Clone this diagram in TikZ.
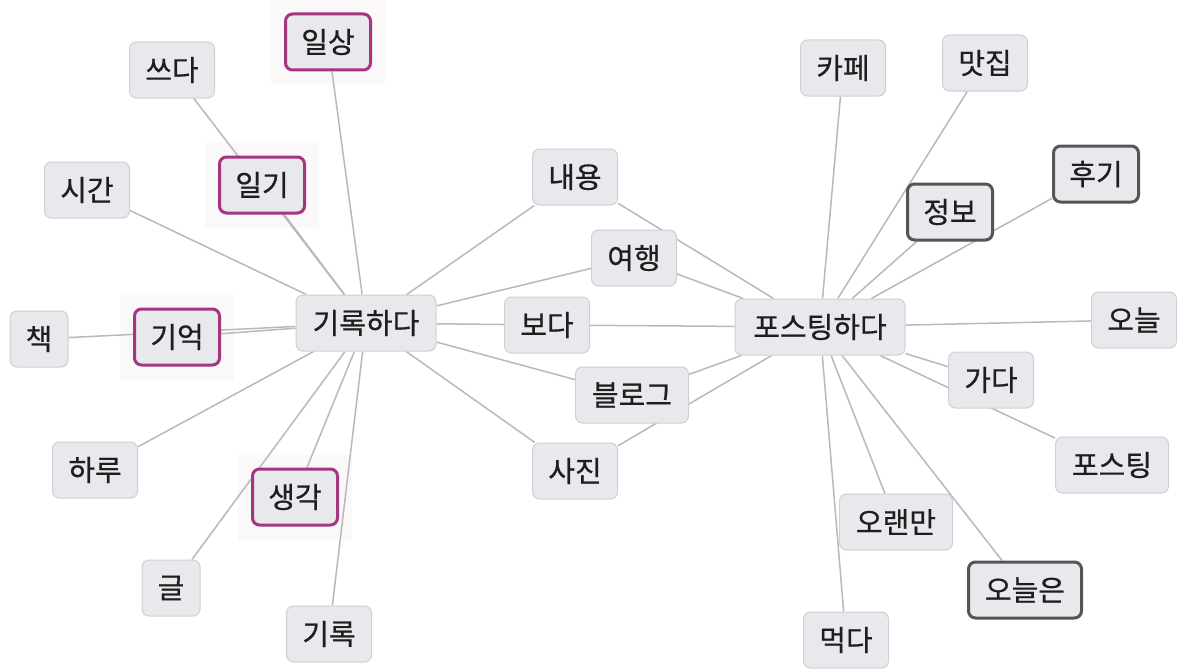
\documentclass[tikz,border=0pt]{standalone}
\usepackage{fontspec}
\setmainfont{Noto Sans CJK KR}[FakeBold=0.6]
\definecolor{nodefill}{HTML}{E8E9EC}
\definecolor{nodeborder}{HTML}{CDD0D4}
\definecolor{hlpurple}{HTML}{A3367F}
\definecolor{dkgray}{HTML}{555555}
\definecolor{linecol}{HTML}{B9B9B9}
\definecolor{textcol}{HTML}{1E1E1E}
\definecolor{halofill}{HTML}{FBF8FA}
\pgfdeclarelayer{paper}
\pgfdeclarelayer{halo}
\pgfdeclarelayer{edges}
\pgfsetlayers{paper,halo,edges,main}
\tikzset{
  word/.style={draw=nodeborder, line width=1pt, fill=nodefill, rounded corners=7pt,
    minimum height=56pt, inner xsep=6pt, font=\fontsize{29}{31}\selectfont, text=textcol},
  hl/.style={word, draw=hlpurple, line width=3pt},
  dk/.style={word, draw=dkgray, line width=3pt},
  c1/.style={minimum width=58pt},
  c2/.style={minimum width=85pt},
  c3/.style={minimum width=113pt},
  c4/.style={minimum width=140pt},
  c5/.style={minimum width=170pt},
  link/.style={draw=linecol, line width=1.5pt},
  haloarea/.style={fill=halofill}
}
\begin{document}
\begin{tikzpicture}[x=1pt,y=-1pt]
\begin{pgfonlayer}{paper}
\fill[white] (0,0) rectangle (1181,669);
\end{pgfonlayer}
\useasboundingbox (0,0) rectangle (1181,669);
% left cluster
\node[hl,c2]   (ilsang)    at (328,42)  {일상};
\node[word,c2] (sseuda)    at (172,70)  {쓰다};
\node[word,c2] (sigan)     at (87,190)  {시간};
\node[hl,c2]   (ilgi)      at (262,185) {일기};
\node[word,c4] (girokhada) at (366,323) {기록하다};
\node[word,c1] (chaek)     at (39,339)  {책};
\node[hl,c2]   (gieok)     at (177,337) {기억};
\node[word,c2] (haru)      at (95,470)  {하루};
\node[hl,c2]   (saenggak)  at (295,497) {생각};
\node[word,c1] (geul)      at (171,588) {글};
\node[word,c2] (girok)     at (329,634) {기록};
% middle
\node[word,c2] (naeyong)   at (575,177) {내용};
\node[word,c2] (yeohaeng)  at (634,258) {여행};
\node[word,c2] (boda)      at (547,325) {보다};
\node[word,c3] (blog)      at (632,395) {블로그};
\node[word,c2] (sajin)     at (575,471) {사진};
% right cluster
\node[word,c5] (posting)   at (820,327) {포스팅하다};
\node[word,c2] (cafe)      at (843,68)  {카페};
\node[word,c2] (matjip)    at (985,63)  {맛집};
\node[dk,c2]   (jeongbo)   at (950,212) {정보};
\node[dk,c2]   (hugi)      at (1096,174){후기};
\node[word,c2] (oneul)     at (1134,320){오늘};
\node[word,c2] (gada)      at (991,380) {가다};
\node[word,c3] (postingn)  at (1112,465){포스팅};
\node[word,c3] (oraenman)  at (896,522) {오랜만};
\node[dk,c3]   (oneuleun)  at (1025,590){오늘은};
\node[word,c2] (meokda)    at (846,640) {먹다};
\begin{pgfonlayer}{halo}
\foreach \n in {ilsang,ilgi,gieok,saenggak}{
  \fill[haloarea] ([xshift=-13pt,yshift=13pt]\n.north west) rectangle ([xshift=13pt,yshift=-13pt]\n.south east);
}
\end{pgfonlayer}
\begin{pgfonlayer}{edges}
\foreach \n in {ilsang,ilgi,sseuda,sigan,gieok,chaek,haru,saenggak,geul,girok,naeyong,yeohaeng,boda,blog,sajin}{
  \draw[link] (girokhada) -- (\n);
}
\foreach \n in {naeyong,yeohaeng,boda,blog,sajin,cafe,matjip,jeongbo,hugi,oneul,gada,postingn,oraenman,oneuleun,meokda}{
  \draw[link] (posting) -- (\n);
}
\end{pgfonlayer}
\end{tikzpicture}
\end{document}
